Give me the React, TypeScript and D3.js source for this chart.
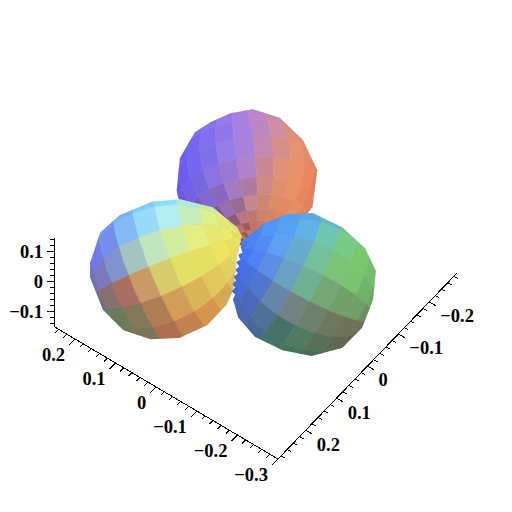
import React from "react";
import * as d3 from "d3";

// ---- Axis data ----
const xRange = [0.25, -0.3];
const yRange = [0.29, -0.29];
const zRange = [-0.15, 0.146];
const xTickLabels = ["0.2", "0.1", "0", "\u22120.1", "\u22120.2", "\u22120.3"];
const xTickValues = [0.2, 0.1, 0, -0.1, -0.2, -0.3];
const yTickLabels = ["0.2", "0.1", "0", "\u22120.1", "\u22120.2"];
const yTickValues = [0.2, 0.1, 0, -0.1, -0.2];
const zTickLabels = ["0.1", "0", "\u22120.1"];
const zTickValues = [0.1, 0, -0.1];

// ---- Surface lobes: silhouette (angle in degrees, radius) and colours read over a 7x7 lattice ----
const backAngles = [4, 27, 54, 82, 113, 132, 187, 221, 256, 262, 288, 312, 327, 345];
const backRadii = [71, 70, 68, 70, 70, 67, 66, 73, 72, 72, 71.5, 71.5, 69, 69];
const backColors = [
  ["#8a74f0", "#8a74f0", "#9a7ce8", "#b184dc", "#c78cb8", "#d98f88", "#e08a70"],
  ["#7465f5", "#7d6cf2", "#8f78ea", "#ab82de", "#cc8caa", "#e09078", "#e58868"],
  ["#6a5cf5", "#7768f0", "#957fe5", "#b083d8", "#d08c90", "#e89570", "#e88060"],
  ["#6a58f0", "#7a6ae8", "#9a78d8", "#b37fb8", "#d88f78", "#eb9568", "#e87a58"],
  ["#7058e0", "#7a60d0", "#8f68b8", "#b87f90", "#d98a68", "#e88f62", "#e07858"],
  ["#7850c8", "#7a55b8", "#905a90", "#b87060", "#d88060", "#e08a60", "#e08060"],
  ["#6858b0", "#805090", "#a05a70", "#c06a60", "#d07a60", "#e08a60", "#e08060"],
];
const leftAngles = [11, 37, 60, 67, 81, 108, 122, 145, 170, 193, 215, 237, 263, 274, 298, 318, 347];
const leftRadii = [70, 76, 81, 81, 71, 70, 70, 70, 71, 73, 76, 76.5, 77.5, 77, 75.6, 71, 68];
const leftColors = [
  ["#6a90f8", "#70a8f8", "#78c8ff", "#8ae0ff", "#b5ecd8", "#d5ee90", "#e4ee78"],
  ["#6a80f8", "#70a8f8", "#90d8ff", "#b8f0f0", "#d5f0a8", "#e4ee78", "#e8e868"],
  ["#6a70f8", "#7a9ae8", "#a8dce8", "#d0f0a8", "#eaee70", "#eee860", "#e8e060"],
  ["#6a70e0", "#8090c8", "#c0d890", "#dcdc70", "#e4e060", "#e6d860", "#e0c860"],
  ["#7070a8", "#9a6a68", "#c87858", "#d8b860", "#dcb858", "#dcb858", "#d8a850"],
  ["#667860", "#687a5c", "#8a7858", "#c07850", "#d89050", "#d09048", "#c88848"],
  ["#667860", "#667a5c", "#667a5c", "#a86a50", "#b07050", "#b07050", "#b07050"],
];
const rightAngles = [7, 34, 60, 80, 103, 127, 149, 174, 198, 223, 243, 258, 261, 264, 267, 270, 273, 276, 279, 282, 285, 288, 291, 294, 297, 300, 304, 327, 347];
const rightRadii = [71.6, 68.5, 70.8, 73, 70.8, 72.8, 74.4, 72.4, 69.6, 72.2, 73.8, 72.6, 69.5, 72.5, 69, 71.5, 68, 70.5, 67, 70, 67, 71, 68, 72, 69, 73, 75, 72.4, 71.8];
const rightColors = [
  ["#4a88f8", "#4a88f8", "#5098f0", "#5aa0f0", "#60b0d0", "#68b8b0", "#70c090"],
  ["#4a78f8", "#4a88f8", "#5aa0f8", "#60b0f0", "#70c8b0", "#78c890", "#70c080"],
  ["#4060f8", "#4f80f5", "#60a0e8", "#70b0b0", "#78c888", "#80cc68", "#70c070"],
  ["#4568d8", "#4a70d0", "#7090c0", "#70b098", "#78b878", "#78c070", "#70b868"],
  ["#4568b8", "#5068b0", "#6a8a90", "#78807a", "#708a68", "#70a068", "#68a060"],
  ["#466a98", "#486a90", "#3f7060", "#60806a", "#6c7058", "#706858", "#606050"],
  ["#3f7a70", "#3f7a60", "#3f7a58", "#3f7050", "#4a6850", "#505040", "#505040"],
];
const backLats = [-90, -85, -79, -72, -64, -54, -42, -28, -12, 6, 24, 44, 66, 90];
const sideLats = [-90, -82, -72, -60, -46, -30, -14, 2, 18, 34, 50, 66, 80, 90];
const backContrast = [0.5, 0.55, 0.5, 0.45, 0.35, 0.25, 0.14, 0.06, 0.03, 0.02, 0.02, 0.02, 0.02];
const sideContrast = [0.12, 0.08, 0.05, 0.03, 0.02, 0.02, 0.02, 0.02, 0.02, 0.03, 0.04, 0.05, 0.06];

const lobes = [
  { id: "back", cx: 248, cy: 180, halfW: 70, halfH: 70, angles: backAngles, radii: backRadii, colors: backColors, rotate: [8, 30, 7], lats: backLats, lonStep: 15, contrast: backContrast, contrastUpTo: 0.05 },
  { id: "left", cx: 167, cy: 268, halfW: 78, halfH: 71, angles: leftAngles, radii: leftRadii, colors: leftColors, rotate: [6, 10, 112], lats: sideLats, lonStep: 22.5, contrast: sideContrast, contrastUpTo: 2 },
  { id: "right", cx: 304, cy: 284, halfW: 72, halfH: 72, angles: rightAngles, radii: rightRadii, colors: rightColors, rotate: [10, 8, -117], lats: sideLats, lonStep: 22.5, contrast: sideContrast, contrastUpTo: 2 },
];

function sampleColor(m: string[][], u: number, v: number) {
  const n = m.length - 1;
  const cu = Math.max(0, Math.min(n - 1e-6, ((u + 1) / 2) * n));
  const cv = Math.max(0, Math.min(n - 1e-6, ((v + 1) / 2) * n));
  const i = Math.floor(cu), j = Math.floor(cv);
  const top = d3.interpolateRgb(m[j][i], m[j][i + 1])(cu - i);
  const bot = d3.interpolateRgb(m[j + 1][i], m[j + 1][i + 1])(cu - i);
  return d3.interpolateRgb(top, bot)(cv - j);
}

function Lobe({ lobe }: { lobe: (typeof lobes)[number] }) {
  const R = 100;
  const maxR = d3.max(lobe.radii) as number;
  const k = (maxR + 1) / R;
  const proj = d3.geoOrthographic().scale(R).translate([0, 0]).rotate(lobe.rotate as [number, number, number]).precision(0.5);
  const path = d3.geoPath(proj);
  const clip = d3
    .lineRadial<number>()
    .angle((_, i) => (lobe.angles[i] * Math.PI) / 180)
    .radius((r) => r)
    .curve(d3.curveLinearClosed)(lobe.radii) as string;
  const cells: { d: string; fill: string }[] = [];
  for (let a = 0; a < lobe.lats.length - 1; a++) {
    let idx = 0;
    for (let lon = -180; lon < 180; lon += lobe.lonStep, idx++) {
      const la0 = Math.max(-89.9, lobe.lats[a]), la1 = Math.min(89.9, lobe.lats[a + 1]);
      const lo1 = lon + lobe.lonStep;
      const f: any = {
        type: "Polygon",
        coordinates: [[[lon, la0], [lon, la1], [lo1, la1], [lo1, la0], [lon, la0]]],
      };
      const d = path(f);
      if (!d) continue;
      const [x, y] = path.centroid(f);
      if (!isFinite(x) || !isFinite(y)) continue;
      const u = (x * k) / lobe.halfW;
      const base = d3.color(sampleColor(lobe.colors, u, (y * k) / lobe.halfH)) as d3.RGBColor;
      const c = u <= lobe.contrastUpTo ? lobe.contrast[a] : 0.02;
      const fill = ((idx + a) % 2 ? base.darker(c) : base.brighter(c * 0.5)).formatHex();
      cells.push({ d, fill });
    }
  }
  return (
    <g transform={`translate(${lobe.cx},${lobe.cy})`} clipPath={`url(#clip-${lobe.id})`}>
      <clipPath id={`clip-${lobe.id}`}>
        <path d={clip} />
      </clipPath>
      <g transform={`scale(${k})`}>
        {cells.map((c, i) => (
          <path key={i} d={c.d} fill={c.fill} stroke={c.fill} strokeWidth={0.8} />
        ))}
      </g>
    </g>
  );
}

const font = { fontFamily: "'Liberation Serif', serif", fontWeight: 700, fontSize: 18.5, fill: "#000" } as const;

export default function App() {
  const xx = d3.scaleLinear().domain(xRange).range([54.7, 278]);
  const xy = d3.scaleLinear().domain(xRange).range([327, 459]);
  const yx = d3.scaleLinear().domain(yRange).range([278, 457]);
  const yy = d3.scaleLinear().domain(yRange).range([459, 273]);
  const zy = d3.scaleLinear().domain(zRange).range([327, 238]);

  const isMajor = (v: number) => Math.abs(v * 10 - Math.round(v * 10)) < 1e-6;
  const xTicks = d3.range(-30, 25, 2).map((v) => v / 100);
  const yTicks = d3.range(-28, 29, 2).map((v) => v / 100);
  const zTicks = d3.range(-14, 15, 2).map((v) => v / 100);

  return (
    <svg width={512} height={512} style={{ position: "absolute", left: 0, top: 0, background: "#fff" }}>
      {lobes.map((l) => (
        <Lobe key={l.id} lobe={l} />
      ))}
      <g stroke="#000" strokeWidth={1} shapeRendering="crispEdges">
        <line x1={54} x2={54} y1={zy(zRange[0])} y2={zy(zRange[1])} />
        <line x1={xx(xRange[0])} y1={xy(xRange[0])} x2={xx(xRange[1])} y2={xy(xRange[1])} />
        <line x1={yx(yRange[0])} y1={yy(yRange[0])} x2={yx(yRange[1])} y2={yy(yRange[1])} />
        {zTicks.map((v) => (
          <line key={v} x1={54} x2={isMajor(v) ? 47 : 50} y1={zy(v)} y2={zy(v)} />
        ))}
        {xTicks.map((v) => {
          const s = isMajor(v) ? 6 : 3.5;
          return <line key={v} x1={xx(v)} y1={xy(v)} x2={xx(v) - s} y2={xy(v) + s} />;
        })}
        {yTicks.map((v) => {
          const s = isMajor(v) ? 1.3 : 0.75;
          return <line key={v} x1={yx(v)} y1={yy(v)} x2={yx(v) + 5 * s} y2={yy(v) + 3 * s} />;
        })}
      </g>
      <g {...font}>
        {zTickValues.map((v, i) => (
          <text key={v} x={43} y={zy(v)} dy="0.35em" textAnchor="end">{zTickLabels[i]}</text>
        ))}
        {xTickValues.map((v, i) => (
          <text key={v} x={xx(v) - 10} y={xy(v) + 16} dy="0.35em" textAnchor="end">{xTickLabels[i]}</text>
        ))}
        {yTickValues.map((v, i) => (
          <text key={v} x={yx(v) + 11} y={yy(v) + 14} dy="0.35em" textAnchor="start">{yTickLabels[i]}</text>
        ))}
      </g>
    </svg>
  );
}
